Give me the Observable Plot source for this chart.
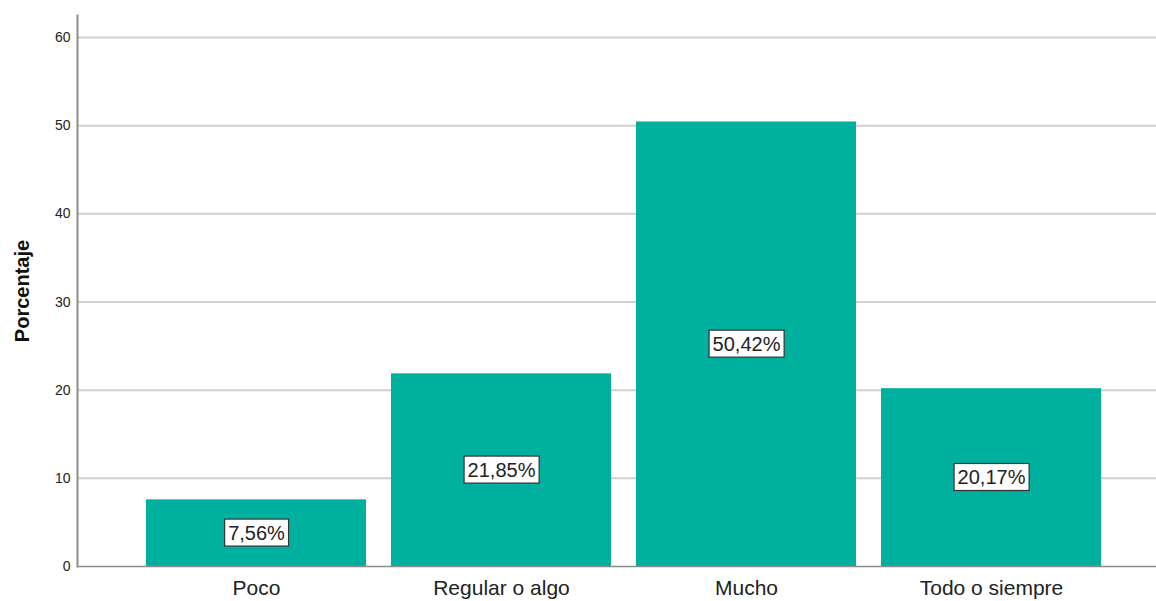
<!DOCTYPE html>
<html>
<head>
<meta charset="utf-8">
<script src="https://cdn.jsdelivr.net/npm/d3@7"></script>
<script src="https://cdn.jsdelivr.net/npm/@observablehq/plot@0.6"></script>
<style>
  html, body { margin: 0; padding: 0; background: #fff; overflow: hidden; }
  #chart svg { display: block; }
</style>
</head>
<body>
<div id="chart"></div>
<script>
const categories = ["Poco", "Regular o algo", "Mucho", "Todo o siempre"];
const values = [7.56, 21.85, 50.42, 20.17];
const labels = ["7,56%", "21,85%", "50,42%", "20,17%"];
const yTicks = [0, 10, 20, 30, 40, 50, 60];

const data = categories.map((c, i) => ({ cat: c, value: values[i], label: labels[i] }));

const chart = Plot.plot({
  width: 1156,
  height: 601,
  marginTop: 15,
  marginBottom: 35,
  marginLeft: 77,
  marginRight: 0,
  style: { fontFamily: "Liberation Sans, Arial, sans-serif", background: "#fff" },
  x: { domain: categories, paddingInner: 0.103, paddingOuter: 0.251, align: 0.553, label: null },
  y: { domain: [0, 62.5], label: null },
  marks: [
    Plot.ruleY(yTicks.filter(d => d > 0), { stroke: "#cfcfcf", strokeWidth: 2 }),
    Plot.barY(data, { x: "cat", y: "value", fill: "#00b09e" }),
    Plot.ruleY([0], { stroke: "#8c8c8c", strokeWidth: 1.5 }),
    Plot.frame({ anchor: "left", stroke: "#8c8c8c", strokeWidth: 2 }),
    Plot.axisY(yTicks, { tickSize: 0, tickPadding: 7, fontSize: 14, fill: "#222", label: null }),
    Plot.axisX({ tickSize: 0, tickPadding: 14, fontSize: 21, fill: "#222", label: null }),
    Plot.text(data, { x: "cat", y: d => d.value / 2, text: "label", fontSize: 20, fill: "#222", className: "barlabel" }),
    Plot.text(["Porcentaje"], { frameAnchor: "left", textAnchor: "middle", dx: -55, rotate: -90, fontSize: 20, fontWeight: "bold", fill: "#111" })
  ]
});

document.getElementById("chart").appendChild(chart);

// white boxes with dark border behind bar labels
d3.select(chart).selectAll("g.barlabel text").each(function () {
  const bb = this.getBBox();
  const padX = 3.5, padY = 3.5;
  d3.select(this.parentNode).insert("rect", () => this)
    .attr("transform", this.getAttribute("transform"))
    .attr("x", bb.x - padX)
    .attr("y", bb.y - padY + 1)
    .attr("width", bb.width + 2 * padX)
    .attr("height", bb.height + 2 * padY - 2)
    .attr("fill", "#fff")
    .attr("stroke", "#333")
    .attr("stroke-width", 1.2);
});
</script>
</body>
</html>
